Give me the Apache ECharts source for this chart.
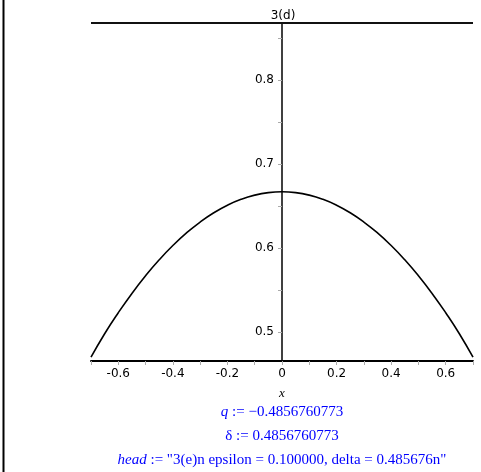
<!DOCTYPE html>
<html>
<head>
<meta charset="utf-8">
<script src="https://cdn.jsdelivr.net/npm/echarts@6/dist/echarts.min.js"></script>
<style>
  html, body { margin: 0; padding: 0; background: #fff; }
  #chart { width: 481px; height: 472px; }
</style>
</head>
<body>
<div id="chart"></div>
<script>
// ---- data ----
const title = '3(d)';
const xValues = [-0.70, -0.65, -0.60, -0.55, -0.50, -0.45, -0.40, -0.35, -0.30, -0.25, -0.20, -0.15, -0.10, -0.05,
                  0.00, 0.05, 0.10, 0.15, 0.20, 0.25, 0.30, 0.35, 0.40, 0.45, 0.50, 0.55, 0.60, 0.65, 0.70];
const curveValues = [0.470, 0.498, 0.523, 0.546, 0.567, 0.586, 0.603, 0.618, 0.631, 0.642, 0.651, 0.658, 0.663, 0.666,
                     0.667, 0.666, 0.663, 0.658, 0.651, 0.642, 0.631, 0.618, 0.603, 0.586, 0.567, 0.546, 0.523, 0.498, 0.470];
const topLineX = [-0.70, 0.70];
const topLineY = [0.868, 0.868];
const xTicks = [-0.7, -0.6, -0.5, -0.4, -0.3, -0.2, -0.1, 0, 0.1, 0.2, 0.3, 0.4, 0.5, 0.6, 0.7];
const xTickLabels = [-0.6, -0.4, -0.2, 0, 0.2, 0.4, 0.6];
const yTicks = [0.5, 0.55, 0.6, 0.65, 0.7, 0.75, 0.8, 0.85];
const yTickLabels = [0.5, 0.6, 0.7, 0.8];
const xName = 'x';
const outputLines = [
  ['q', ' := \u22120.4856760773'],
  ['', '\u03b4 := 0.4856760773'],
  ['head', ' := "3(e)n epsilon = 0.100000, delta = 0.485676n"']
];

const chart = echarts.init(document.getElementById('chart'), null, { renderer: 'canvas' });

const gridLeft = 91, gridRight = 8, chartW = 481;
const plotW = chartW - gridLeft - gridRight;
const xMin = -0.7, xMax = 0.7;
// pixel offset of the x = 0 position from the grid's left edge
const yAxisOffset = -plotW * (0 - xMin) / (xMax - xMin);

const tickFont = { fontFamily: 'DejaVu Sans', fontSize: 12, color: '#000' };
const blue = '#0000ff';

const graphics = [
  { type: 'line', shape: { x1: 3.5, y1: 0, x2: 3.5, y2: 472 }, style: { stroke: '#000', lineWidth: 2 } }
];
const lineY = [412, 436, 460];
outputLines.forEach((l, i) => {
  graphics.push({
    type: 'text', x: 282, y: lineY[i],
    style: {
      text: (l[0] ? '{i|' + l[0] + '}' : '') + '{n|' + l[1] + '}',
      align: 'center', verticalAlign: 'middle',
      rich: {
        i: { fontFamily: 'Liberation Serif', fontSize: 15, fontStyle: 'italic', fill: blue },
        n: { fontFamily: 'Liberation Serif', fontSize: 15, fill: blue }
      }
    }
  });
});

const option = {
  animation: false,
  backgroundColor: '#fff',
  title: {
    text: title, left: 283, top: 10, textAlign: 'center', padding: 0,
    textStyle: { fontFamily: 'DejaVu Sans', fontSize: 12, fontWeight: 'normal', color: '#000' }
  },
  grid: { left: gridLeft, right: gridRight, top: 23, bottom: 111, containLabel: false },
  xAxis: {
    type: 'value', min: xMin, max: xMax,
    name: xName, nameLocation: 'middle', nameGap: 26,
    nameTextStyle: { fontFamily: 'Liberation Serif', fontStyle: 'italic', fontSize: 13, color: '#000' },
    axisLine: { onZero: false, lineStyle: { color: '#000', width: 2 } },
    axisTick: { show: true, customValues: xTicks, length: 4, lineStyle: { color: '#aaa' } },
    axisLabel: {
      customValues: xTickLabels, margin: 7, ...tickFont,
      formatter: v => (Math.abs(v) < 1e-9 ? '0' : (+v).toFixed(1))
    },
    splitLine: { show: false }
  },
  yAxis: {
    type: 'value', min: 0.4655, max: 0.868,
    position: 'left', offset: yAxisOffset,
    axisLine: { onZero: false, lineStyle: { color: '#000', width: 1.5 } },
    axisTick: { show: true, customValues: yTicks, length: 4, lineStyle: { color: '#aaa' } },
    axisLabel: {
      customValues: yTickLabels, margin: 8, ...tickFont,
      formatter: v => (+v).toFixed(1)
    },
    splitLine: { show: false }
  },
  series: [
    {
      type: 'line', data: xValues.map((x, i) => [x, curveValues[i]]),
      smooth: true, showSymbol: false, symbol: 'none',
      lineStyle: { color: '#000', width: 1.6 }, z: 3
    },
    {
      type: 'line', data: topLineX.map((x, i) => [x, topLineY[i]]),
      showSymbol: false, symbol: 'none',
      lineStyle: { color: '#111', width: 2 }, z: 3
    }
  ],
  graphic: graphics
};
chart.setOption(option);
</script>
</body>
</html>
